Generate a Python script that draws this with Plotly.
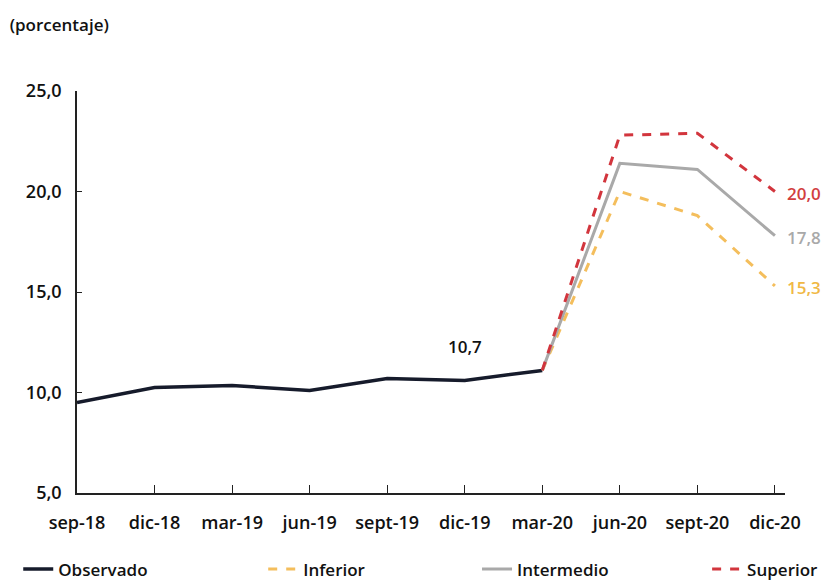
import plotly.graph_objects as go

categories = ["sep-18", "dic-18", "mar-19", "jun-19", "sept-19", "dic-19",
              "mar-20", "jun-20", "sept-20", "dic-20"]
observado = [9.5, 10.25, 10.35, 10.1, 10.7, 10.6, 11.1]
scen_cats = ["mar-20", "jun-20", "sept-20", "dic-20"]
inferior = [11.1, 20.0, 18.8, 15.3]
intermedio = [11.1, 21.4, 21.1, 17.8]
superior = [11.1, 22.8, 22.9, 20.0]
y_ticks = [5, 10, 15, 20, 25]

idx = {c: i for i, c in enumerate(categories)}
x_obs = [idx[c] for c in categories[:len(observado)]]
x_sc = [idx[c] for c in scen_cats]

FONT = "Open Sans"
fig = go.Figure()
fig.add_trace(go.Scatter(x=x_obs, y=observado, mode="lines", name="Observado",
                         line=dict(color="#161b2b", width=3.5), legend="legend"))
fig.add_trace(go.Scatter(x=x_sc, y=inferior, mode="lines", name="Inferior",
                         line=dict(color="#f4be5c", width=3, dash="dash"), legend="legend2"))
fig.add_trace(go.Scatter(x=x_sc, y=intermedio, mode="lines", name="Intermedio",
                         line=dict(color="#a9a9a9", width=3), legend="legend3"))
fig.add_trace(go.Scatter(x=x_sc, y=superior, mode="lines", name="Superior",
                         line=dict(color="#d2353d", width=3, dash="dash"), legend="legend4"))

def fmt(v):
    return f"{v:.1f}".replace(".", ",")

last = idx["dic-20"]
for vals, col in [(superior, "#d2403f"), (intermedio, "#a9a9a9"), (inferior, "#f0b844")]:
    fig.add_annotation(x=last, y=vals[-1], text=fmt(vals[-1]), showarrow=False,
                       xanchor="left", xshift=10, yshift=-2,
                       font=dict(family=FONT, size=17, color=col, weight=600))
fig.add_annotation(x=idx["dic-19"], y=12.3, text=fmt(observado[4]), showarrow=False,
                   font=dict(family=FONT, size=17, color="#111", weight=600))

leg_font = dict(family=FONT, size=17, color="#111", weight=600)
def leg(x):
    return dict(orientation="h", x=x, xanchor="left", y=-0.19, yanchor="middle",
                font=leg_font, bgcolor="rgba(0,0,0,0)")

fig.update_layout(
    width=824, height=575,
    margin=dict(l=69, r=47, t=83, b=90, autoexpand=False),
    paper_bgcolor="white", plot_bgcolor="white",
    font=dict(family=FONT, size=18, color="#111", weight=600),
    title=dict(text="(porcentaje)", x=0.002, xanchor="left", xref="container",
               y=0.97, yanchor="middle", yref="container",
               font=dict(family=FONT, size=17, color="#111", weight=600)),
    showlegend=True,
    legend=leg(-0.083),
    legend2=leg(0.263),
    legend3=leg(0.565),
    legend4=leg(0.890),
    xaxis=dict(range=[0, 9.13], tickmode="array", tickvals=list(range(len(categories))),
               ticktext=categories, showgrid=False, zeroline=False,
               showline=True, linecolor="#222", linewidth=1.5,
               ticks="inside", ticklen=8, tickcolor="#222", tickwidth=1.2,
               ticklabelstandoff=13, tickfont=dict(size=18)),
    yaxis=dict(range=[5, 25], tickmode="array", tickvals=y_ticks,
               ticktext=[fmt(v) for v in y_ticks], showgrid=False, zeroline=False,
               showline=True, linecolor="#222", linewidth=1.5,
               ticks="inside", ticklen=5, tickcolor="#222", tickwidth=1.2,
               ticklabelstandoff=10, tickfont=dict(size=18)),
)
fig.write_html("out.html")
